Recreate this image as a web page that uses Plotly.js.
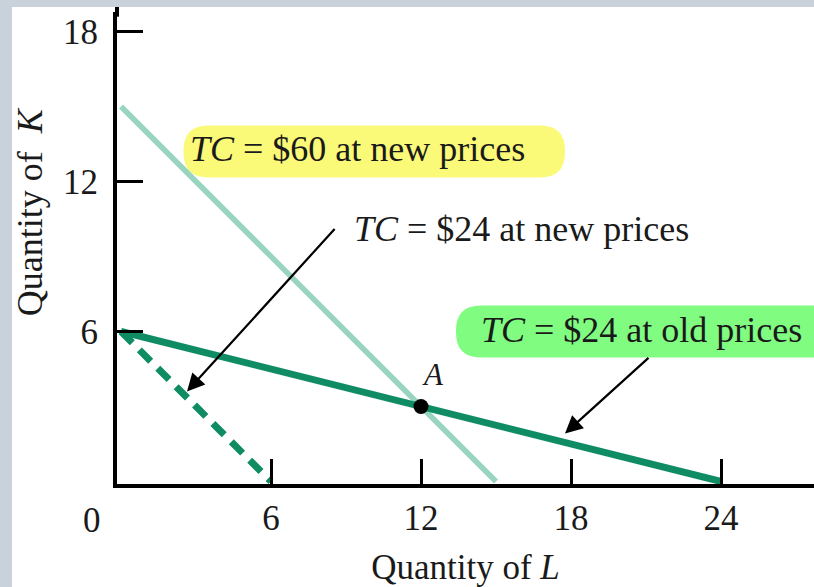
<!DOCTYPE html>
<html>
<head>
<meta charset="utf-8">
<script src="https://cdn.plot.ly/plotly-3.0.1.min.js"></script>
<style>html,body{margin:0;padding:0;background:#c9d2da;}#chart{width:814px;height:587px;}</style>
</head>
<body>
<div id="chart"></div>
<script>
// ---- data ----
const isoNew60_L = [0, 15];   // TC = $60 at new prices
const isoNew60_K = [15, 0];
const isoOld24_L = [0, 24];   // TC = $24 at old prices
const isoOld24_K = [6, 0];
const isoNew24_L = [0, 6];    // TC = $24 at new prices
const isoNew24_K = [6, 0];
const pointA_L = [12];
const pointA_K = [3];
const xTickVals = [6, 12, 18, 24];
const yTickVals = [6, 12, 18];
const labelTexts = ['<i>TC</i> = $60 at new prices', '<i>TC</i> = $24 at new prices', '<i>TC</i> = $24 at old prices'];

const FONT = 'Liberation Serif, Times New Roman, serif';
const DARK = '#0f8c64';
const LIGHT = '#98d4bf';
const TXT = '#1a1a1a';

function roundRect(x0, y0, x1, y1, r) {
  return 'M' + (x0 + r) + ',' + y1 + ' L' + (x1 - r) + ',' + y1 +
    ' Q' + x1 + ',' + y1 + ' ' + x1 + ',' + (y1 - r) +
    ' L' + x1 + ',' + (y0 + r) +
    ' Q' + x1 + ',' + y0 + ' ' + (x1 - r) + ',' + y0 +
    ' L' + (x0 + r) + ',' + y0 +
    ' Q' + x0 + ',' + y0 + ' ' + x0 + ',' + (y0 + r) +
    ' L' + x0 + ',' + (y1 - r) +
    ' Q' + x0 + ',' + y1 + ' ' + (x0 + r) + ',' + y1 + ' Z';
}

const traces = [
  {x: isoNew60_L, y: isoNew60_K, mode: 'lines', line: {color: LIGHT, width: 5.5}, name: labelTexts[0], hoverinfo: 'skip'},
  {x: isoNew24_L, y: isoNew24_K, mode: 'lines', line: {color: DARK, width: 7, dash: '16px,10px'}, name: labelTexts[1], hoverinfo: 'skip'},
  {x: isoOld24_L, y: isoOld24_K, mode: 'lines', line: {color: DARK, width: 7}, name: labelTexts[2], hoverinfo: 'skip'},
  {x: pointA_L, y: pointA_K, mode: 'markers', marker: {color: '#000', size: 15}, name: 'A', hoverinfo: 'skip', cliponaxis: false}
];

const layout = {
  width: 814, height: 587,
  margin: {l: 117, r: 0, t: 12, b: 103, pad: 0, autoexpand: false},
  paper_bgcolor: '#c9d2da',
  plot_bgcolor: '#ffffff',
  showlegend: false,
  font: {family: FONT, size: 34, color: TXT},
  xaxis: {
    range: [-0.16, 27.72], showgrid: false, zeroline: false, automargin: false,
    showline: true, linewidth: 4, linecolor: '#000',
    ticks: 'inside', ticklen: 25, tickwidth: 3, tickcolor: '#000',
    tickvals: xTickVals, ticktext: xTickVals.map(String),
    ticklabelstandoff: 0,
    tickfont: {family: FONT, size: 35, color: TXT},
    title: {text: 'Quantity of <i>L</i>', font: {family: FONT, size: 35, color: TXT}, standoff: 18},
    fixedrange: true
  },
  yaxis: {
    range: [-0.1, 18.78], showgrid: false, zeroline: false, automargin: false,
    showline: true, linewidth: 4, linecolor: '#000',
    ticks: 'inside', ticklen: 26, tickwidth: 3, tickcolor: '#000',
    tickvals: yTickVals, ticktext: yTickVals.map(String),
    ticklabelstandoff: 8,
    tickfont: {family: FONT, size: 35, color: TXT},
    fixedrange: true
  },
  shapes: [
    {type: 'rect', xref: 'paper', yref: 'paper', x0: -0.1506, x1: 1.02, y0: -0.3, y1: 1.0106,
     fillcolor: '#ffffff', line: {width: 0}, layer: 'below'},
    {type: 'line', xref: 'paper', yref: 'paper', x0: 0, x1: 0, y0: 0.99, y1: 1.0106,
     line: {color: '#000', width: 4}, layer: 'above'},
    {type: 'path', xref: 'x', yref: 'y', path: roundRect(2.5, 12.16, 17.76, 14.24, 1.0),
     fillcolor: '#fafa78', line: {width: 0}, layer: 'below'},
    {type: 'path', xref: 'x', yref: 'y', path: roundRect(13.4, 4.96, 29, 7.04, 1.0),
     fillcolor: '#80fc80', line: {width: 0}, layer: 'below'}
  ],
  annotations: [
    {xref: 'x', yref: 'y', x: 2.68, y: 13.3, xanchor: 'left', yanchor: 'middle', text: labelTexts[0], showarrow: false,
     font: {family: FONT, size: 36, color: TXT}},
    {xref: 'x', yref: 'y', x: 9.24, y: 10.1, xanchor: 'left', yanchor: 'middle', text: labelTexts[1], showarrow: false,
     font: {family: FONT, size: 36, color: TXT}},
    {xref: 'x', yref: 'y', x: 14.32, y: 6.06, xanchor: 'left', yanchor: 'middle', text: labelTexts[2], showarrow: false,
     font: {family: FONT, size: 36, color: TXT}},
    {xref: 'x', yref: 'y', x: 12.48, y: 4.3, xanchor: 'center', yanchor: 'middle', text: '<i>A</i>', showarrow: false,
     font: {family: FONT, size: 31, color: TXT}},
    // arrows
    {xref: 'x', yref: 'y', axref: 'x', ayref: 'y', x: 2.64, y: 3.6, ax: 8.6, ay: 10.16, text: '',
     showarrow: true, arrowhead: 2, arrowsize: 1.6, arrowwidth: 2.2, arrowcolor: '#000', standoff: 0},
    {xref: 'x', yref: 'y', axref: 'x', ayref: 'y', x: 17.76, y: 1.92, ax: 21.16, ay: 5.0, text: '',
     showarrow: true, arrowhead: 2, arrowsize: 1.6, arrowwidth: 2.2, arrowcolor: '#000', standoff: 0},
    // origin label and y title
    {xref: 'paper', yref: 'paper', x: -0.0359, y: -0.0763, xanchor: 'center', yanchor: 'middle', text: '0', showarrow: false,
     font: {family: FONT, size: 35, color: TXT}},
    {xref: 'paper', yref: 'paper', x: -0.1248, y: 0.576, xanchor: 'center', yanchor: 'middle', textangle: -90,
     text: 'Quantity of  <i>K</i>', showarrow: false, font: {family: FONT, size: 36, color: TXT}}
  ]
};

Plotly.newPlot('chart', traces, layout, {staticPlot: true, displayModeBar: false});
</script>
</body>
</html>
